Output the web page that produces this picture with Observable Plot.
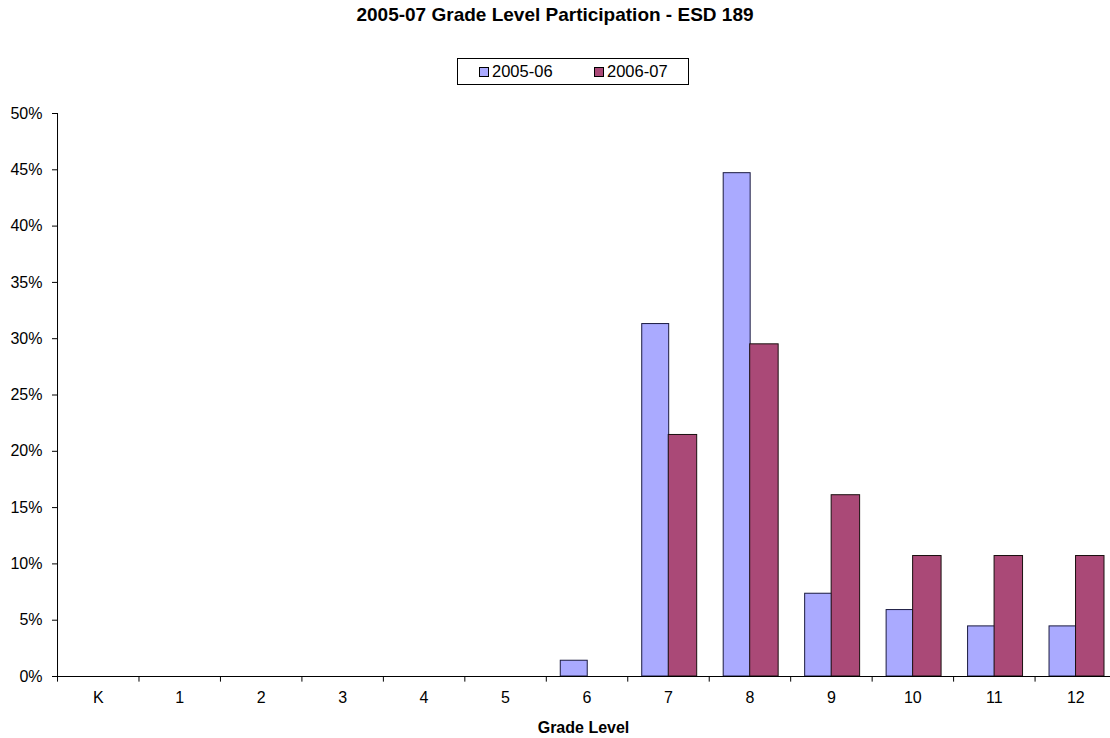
<!DOCTYPE html>
<html><head><meta charset="utf-8">
<script src="https://cdn.jsdelivr.net/npm/d3@7"></script>
<script src="https://cdn.jsdelivr.net/npm/@observablehq/plot@0.6"></script>
<style>
body{margin:0;background:#fff;font-family:"Liberation Sans",Arial,sans-serif;}
#wrap{position:relative;width:1110px;height:738px;overflow:hidden;}
#title{position:absolute;top:4px;left:0;width:1110px;text-align:center;font-weight:bold;font-size:19px;}
#legend{position:absolute;left:457px;top:58px;width:232px;height:27px;border:1px solid #000;box-sizing:border-box;font-size:16.5px;}
.item{display:flex;align-items:center;position:absolute;top:3px;}
.sw{width:8px;height:8px;border:1px solid #000;margin-right:3px;}
#xlabel{position:absolute;top:719px;left:57px;width:1053px;text-align:center;font-weight:bold;font-size:16px;}
#chart{position:absolute;top:90px;left:0;width:1116px;}
#chart svg{max-width:none !important;}
</style></head>
<body><div id="wrap">
<div id="title">2005-07 Grade Level Participation - ESD 189</div>
<div id="legend"></div>
<div id="chart"></div>
<div id="xlabel">Grade Level</div>
</div>
<script>
const grades = ["K","1","2","3","4","5","6","7","8","9","10","11","12"];
const series = ["2005-06","2006-07"];
const v0506 = [0,0,0,0,0,0,1.4,31.3,44.7,7.35,5.9,4.45,4.45];
const v0607 = [0,0,0,0,0,0,0,21.45,29.5,16.1,10.7,10.7,10.7];
const colors = ["#AAAAFF","#AA4977"];
const yTicks = [0,5,10,15,20,25,30,35,40,45,50];

const rows = [];
grades.forEach((g,i)=>{
  rows.push({grade:g, series:series[0], value:v0506[i]});
  rows.push({grade:g, series:series[1], value:v0607[i]});
});

// legend
const lg = document.getElementById("legend");
const lpos = [21, 136];
series.forEach((s,i)=>{
  const it = document.createElement("div");
  it.className="item"; it.style.left = lpos[i]+"px";
  it.innerHTML = `<span class="sw" style="background:${colors[i]}"></span><span>${s}</span>`;
  lg.appendChild(it);
});

const boundaries = grades.map(g=>({grade:g}));

const chart = Plot.plot({
  width: 1116,
  height: 648,
  marginLeft: 57,
  marginRight: 0,
  marginTop: 23,
  marginBottom: 62,
  style: {fontFamily: "Liberation Sans, Arial, sans-serif", fontSize: "16px", color: "#000", background: "transparent", maxWidth: "none"},
  x: {domain: grades, padding: 0, round: false},
  y: {domain: [0, 50]},
  color: {domain: series, range: colors},
  marks: [
    Plot.rectY(rows.filter(d=>d.series===series[0]), {x:"grade", y:"value", fill: colors[0], stroke:"#1a1a40", strokeWidth:1, insetLeft:14.5, insetRight:40}),
    Plot.rectY(rows.filter(d=>d.series===series[1]), {x:"grade", y:"value", fill: colors[1], stroke:"#1a1010", strokeWidth:1, insetLeft:41, insetRight:12}),
    Plot.ruleY([0], {stroke:"#000", strokeWidth:1}),
    Plot.ruleX(boundaries, {x:"grade", y1: 0, y2: -0.5, dx: -40.7, stroke:"#000"}),
    Plot.axisX({tickSize: 0, tickPadding: 15, label: null, fontSize: 16}),
    Plot.axisY({ticks: yTicks, tickSize: 5, tickPadding: 10, tickFormat: d => d + "%", label: null, fontSize: 16}),
    Plot.ruleX([0], {x: () => grades[0], y1: 0, y2: 50, dx: -40.7, stroke: "#000"})
  ]
});
document.getElementById("chart").appendChild(chart);
</script>
</body></html>
